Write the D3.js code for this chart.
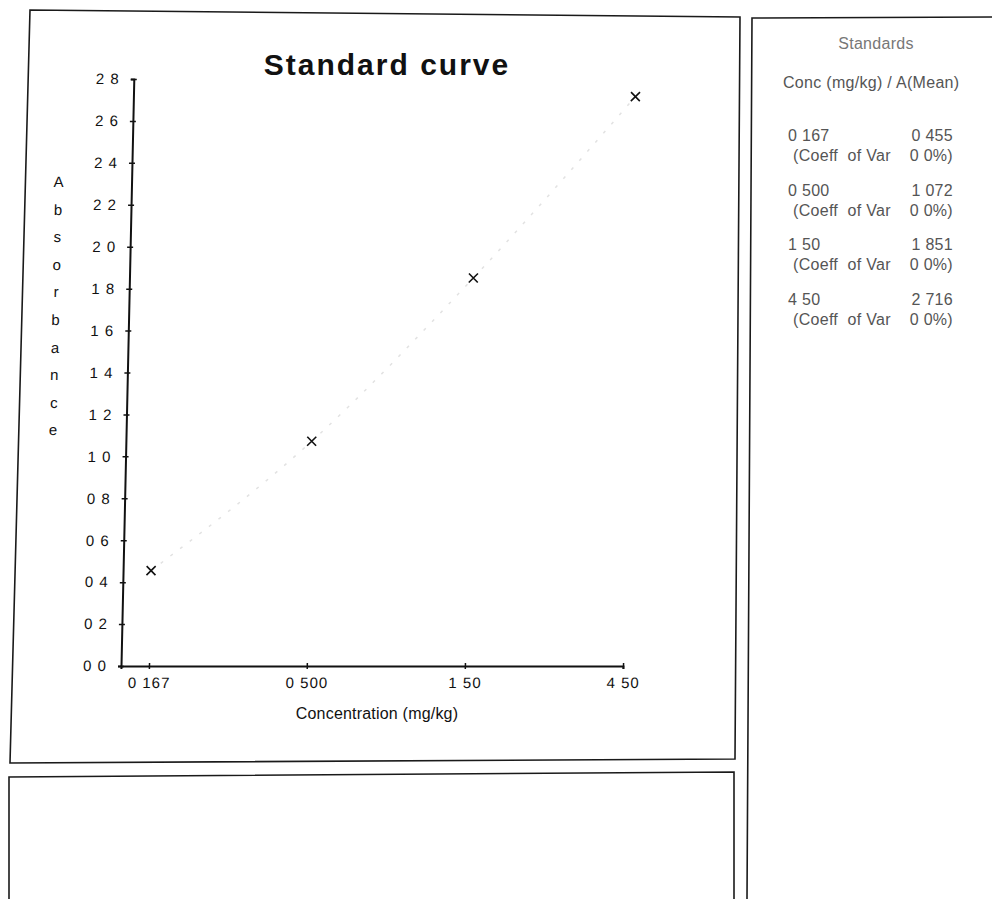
<!DOCTYPE html>
<html>
<head>
<meta charset="utf-8">
<script src="https://cdn.jsdelivr.net/npm/d3@7"></script>
<style>
  body { margin: 0; background: #fff; }
  svg { display: block; font-family: "Liberation Sans", Arial, sans-serif; }
</style>
</head>
<body>
<div id="chart"></div>
<script>
const WIDTH = 992;
const HEIGHT = 899;
const AXIS_X = 121;      // corner of the two axes
const AXIS_Y = 666;
const PLOT_W = 502;
const PLOT_H = 587;
const SKEW = -1.25;      // the scan leans a little

// standards (mg/kg) and their mean absorbance
const conc = [0.167, 0.5, 1.5, 4.5];
const concLabels = ['0 167', '0 500', '1 50', '4 50'];
const absMean = [0.455, 1.072, 1.851, 2.716];
const absLabels = ['0 455', '1 072', '1 851', '2 716'];
const coeffVar = ['0 0%)', '0 0%)', '0 0%)', '0 0%)'];
const yTicks = [0, 0.2, 0.4, 0.6, 0.8, 1.0, 1.2, 1.4, 1.6, 1.8, 2.0, 2.2, 2.4, 2.6, 2.8];
const yTitle = 'Absorbance';
const xStart = 0.1375;   // left end of the log axis

const svg = d3.select('#chart').append('svg')
  .attr('width', WIDTH)
  .attr('height', HEIGHT);

svg.append('rect').attr('width', WIDTH).attr('height', HEIGHT).attr('fill', '#fff');

// panel frames
const frames = [
  { pts: [[30, 10], [740, 17], [735, 759], [10, 763]], closed: true },
  { pts: [[992, 17], [752, 18], [747, 899]], closed: false },
  { pts: [[9, 899], [9, 777], [734, 772], [734, 899]], closed: false },
];
svg.selectAll('path.frame')
  .data(frames)
  .enter()
  .append('path')
  .attr('class', 'frame')
  .attr('d', (f) => d3.line()(f.pts) + (f.closed ? 'Z' : ''))
  .attr('fill', 'none')
  .attr('stroke', '#1a1a1a')
  .attr('stroke-width', 1.6);

// title
svg.append('text')
  .attr('x', 387)
  .attr('y', 75)
  .attr('text-anchor', 'middle')
  .attr('font-size', 30)
  .attr('font-weight', 'bold')
  .attr('letter-spacing', 2)
  .attr('fill', '#111')
  .text('Standard curve');

svg.append('text')
  .attr('x', 377)
  .attr('y', 719)
  .attr('text-anchor', 'middle')
  .attr('font-size', 16)
  .attr('letter-spacing', 0.2)
  .attr('fill', '#111')
  .text('Concentration (mg/kg)');

const x = d3.scaleLog().domain([xStart, 4.5]).range([0, PLOT_W]);
const y = d3.scaleLinear().domain([0, 2.8]).range([0, -PLOT_H]);

const plot = svg.append('g')
  .attr('transform', `translate(${AXIS_X},${AXIS_Y}) skewX(${SKEW})`);

// faint fitted curve through the standards
const pts = conc.map((c, i) => [x(c), y(absMean[i])]);
plot.append('path')
  .attr('d', d3.line().curve(d3.curveMonotoneX)(pts))
  .attr('fill', 'none')
  .attr('stroke', '#e2e2e2')
  .attr('stroke-width', 1.5)
  .attr('stroke-dasharray', '3 9');

const yAxis = plot.append('g')
  .call(d3.axisLeft(y)
    .tickValues(yTicks)
    .tickSizeOuter(0)
    .tickSize(3)
    .tickPadding(11)
    .tickFormat((d) => d3.format('.1f')(d).replace('.', ' ')));

const xAxis = plot.append('g')
  .call(d3.axisBottom(x)
    .tickValues(conc)
    .tickSizeOuter(0)
    .tickSize(3)
    .tickPadding(8)
    .tickFormat((d, i) => concLabels[i]));

[yAxis, xAxis].forEach((ax) => {
  ax.select('.domain').attr('stroke', '#111').attr('stroke-width', 2);
  ax.selectAll('.tick line').attr('stroke', '#111').attr('stroke-width', 1.5);
  ax.selectAll('.tick text')
    .attr('font-size', 15)
    .attr('letter-spacing', 1)
    .attr('fill', '#111')
    .attr('font-family', '"Liberation Sans", Arial, sans-serif');
});
yAxis.selectAll('.tick line').attr('x1', 3).attr('x2', -3);
xAxis.selectAll('.tick line').attr('y1', -3).attr('y2', 3);

// stacked y title
plot.append('g')
  .selectAll('text')
  .data(yTitle.split(''))
  .enter()
  .append('text')
  .attr('x', -73)
  .attr('y', (d, i) => -484 + i * 27.6 + 5)
  .attr('text-anchor', 'middle')
  .attr('font-size', 15)
  .attr('fill', '#111')
  .text((d) => d);

// markers
plot.append('g')
  .selectAll('path')
  .data(conc)
  .enter()
  .append('path')
  .attr('transform', (d, i) => `translate(${x(d)},${y(absMean[i])})`)
  .attr('d', 'M-4.5,-4.5L4.5,4.5M-4.5,4.5L4.5,-4.5')
  .attr('stroke', '#111')
  .attr('stroke-width', 1.6);

// standards panel
const side = svg.append('g')
  .attr('font-size', 16)
  .attr('letter-spacing', 0.3)
  .attr('fill', '#555');

side.append('text')
  .attr('x', 876).attr('y', 49)
  .attr('text-anchor', 'middle')
  .attr('fill', '#777')
  .text('Standards');

side.append('text')
  .attr('x', 783).attr('y', 88)
  .text('Conc (mg/kg) / A(Mean)');

const rows = side.selectAll('g.row')
  .data(conc)
  .enter()
  .append('g')
  .attr('class', 'row')
  .attr('transform', (d, i) => `translate(0,${141 + i * 54.7})`);

rows.append('text').attr('x', 788).text((d, i) => concLabels[i]);
rows.append('text').attr('x', 953).attr('text-anchor', 'end').text((d, i) => absLabels[i]);
rows.append('text').attr('x', 793).attr('y', 20).attr('xml:space', 'preserve').text('(Coeff  of Var');
rows.append('text').attr('x', 953).attr('y', 20).attr('text-anchor', 'end').text((d, i) => coeffVar[i]);
</script>
</body>
</html>
